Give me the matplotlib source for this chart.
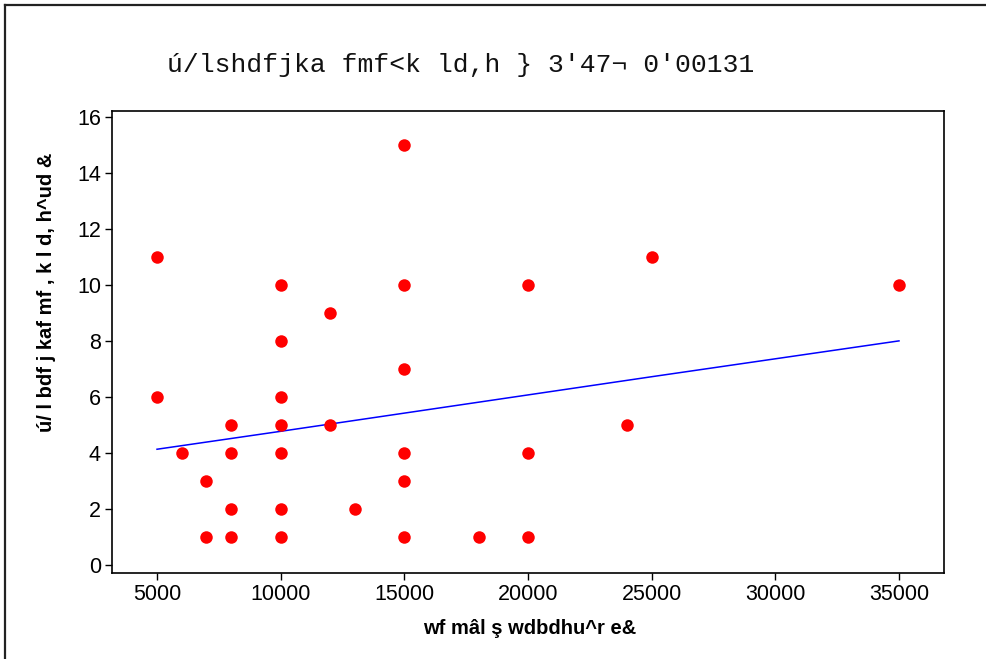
import numpy as np
import matplotlib.pyplot as plt
from matplotlib.lines import Line2D

# scatter points
x_vals = [5000, 5000, 6000, 7000, 7000, 8000, 8000, 8000, 8000,
          10000, 10000, 10000, 10000, 10000, 10000, 10000,
          12000, 12000, 13000,
          15000, 15000, 15000, 15000, 15000, 15000,
          18000, 20000, 20000, 20000, 24000, 25000, 35000]
y_vals = [11, 6, 4, 3, 1, 5, 4, 2, 1,
          10, 8, 6, 5, 4, 2, 1,
          9, 5, 2,
          15, 10, 7, 4, 3, 1,
          1, 10, 4, 1, 5, 11, 10]

# fitted line, values read at a few x positions
line_x = [5000, 10000, 15000, 20000, 25000, 30000, 35000]
line_y = [4.13, 4.77, 5.42, 6.07, 6.72, 7.36, 8.0]

title = "ú/lshdfjka fmf<k ld,h } 3'47¬ 0'00131"
xlabel = "wf mâl ş wdbdhu^r e&"
ylabel = "ú/ l bdf j kaf mf , k l d, h^ud &"

fig = plt.figure(figsize=(9.87, 6.59), dpi=100)
ax = fig.add_axes([112/987, 1 - 573/659, (944-112)/987, (573-111)/659])

ax.plot(line_x, line_y, color='blue', lw=1.1, zorder=2)
ax.plot(x_vals, y_vals, 'o', color='red', ms=9, mec='none', zorder=3)

ax.set_xlim(3180, 36820)
ax.set_ylim(-0.29, 16.21)
ax.set_xticks(range(5000, 35001, 5000))
ax.set_yticks(range(0, 17, 2))
ax.tick_params(direction='out', length=5, width=1, labelsize=15.5, pad=3)
for lbl in ax.get_xticklabels() + ax.get_yticklabels():
    lbl.set_family('Liberation Sans')
for s in ax.spines.values():
    s.set_linewidth(1.2)

fig.text(461/987, 1 - 65/659, title, family='Liberation Mono', fontsize=19,
         ha='center', va='center', color='#111111')
fig.text(530/987, 1 - 628/659, xlabel, family='Liberation Sans', fontsize=14.5,
         fontweight='bold', ha='center', va='center')
fig.text(47/987, 1 - 292/659, ylabel, family='Liberation Sans', fontsize=14.5,
         fontweight='bold', ha='center', va='center', rotation=90)

# outer frame (top and left edges visible)
fig.add_artist(Line2D([5.5/987, 1], [1 - 4.5/659, 1 - 4.5/659], color='#222222', lw=1.6,
                      transform=fig.transFigure))
fig.add_artist(Line2D([5.5/987, 5.5/987], [0, 1 - 4.5/659], color='#222222', lw=1.6,
                      transform=fig.transFigure))

fig.savefig("out.png", dpi=100)
